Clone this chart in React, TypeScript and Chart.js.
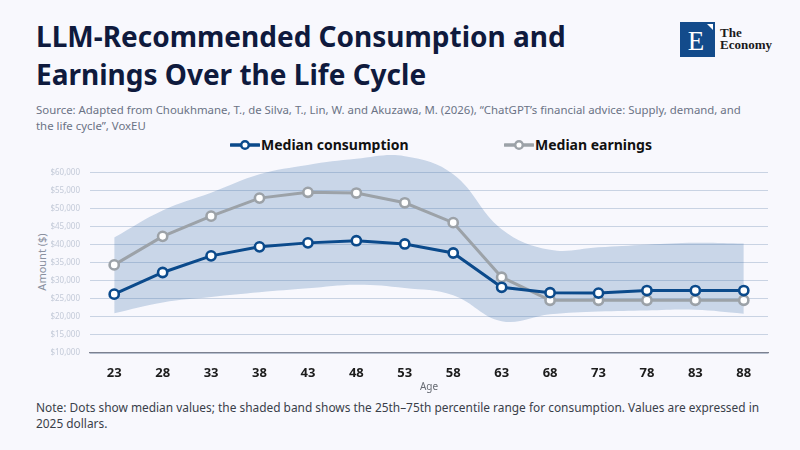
import React, { useEffect, useRef } from "react";
import { Chart, registerables } from "chart.js";

Chart.register(...registerables);

const ages = ["23", "28", "33", "38", "43", "48", "53", "58", "63", "68", "73", "78", "83", "88"];
const medianConsumption = [26300, 32300, 36900, 39400, 40500, 41100, 40200, 37700, 28200, 26700, 26600, 27300, 27300, 27300];
const medianEarnings = [34400, 42300, 47900, 52900, 54500, 54300, 51600, 46100, 31000, 24600, 24600, 24600, 24600, 24600];
const bandUpper = [42000, 49500, 54400, 59500, 62100, 63800, 64500, 59500, 44300, 38600, 39300, 40000, 40500, 40300];
const bandLower = [21000, 24000, 25500, 26800, 27900, 28900, 28000, 26000, 18800, 20700, 21500, 21800, 22000, 20900];
const yTicks = [10000, 15000, 20000, 25000, 30000, 35000, 40000, 45000, 50000, 55000, 60000];

const BLUE = "#0b4a8b";
const GRAY = "#9ca2a8";
const BG = "#f8f8fd";
const FONT = "'Noto Sans', sans-serif";

function LegendMarker({ color }: { color: string }) {
  return (
    <svg width="30" height="12" style={{ display: "block" }}>
      <line x1="1" y1="6" x2="29" y2="6" stroke={color} strokeWidth="3.5" strokeLinecap="round" />
      <circle cx="15" cy="6" r="3.8" fill="#fff" stroke={color} strokeWidth="2.5" />
    </svg>
  );
}

export default function App() {
  const canvasRef = useRef<HTMLCanvasElement | null>(null);

  useEffect(() => {
    const canvas = canvasRef.current;
    if (!canvas) return;
    const chart = new Chart(canvas, {
      type: "line",
      data: {
        labels: ages,
        datasets: [
          {
            label: "Median consumption",
            data: medianConsumption,
            borderColor: BLUE,
            backgroundColor: "#ffffff",
            borderWidth: 3,
            pointRadius: 4.6,
            pointBorderWidth: 2.6,
            pointBackgroundColor: "#ffffff",
            pointBorderColor: BLUE,
            tension: 0,
            fill: false,
          },
          {
            label: "Median earnings",
            data: medianEarnings,
            borderColor: GRAY,
            backgroundColor: "#ffffff",
            borderWidth: 3,
            pointRadius: 4.6,
            pointBorderWidth: 2.6,
            pointBackgroundColor: "#ffffff",
            pointBorderColor: GRAY,
            tension: 0,
            fill: false,
          },
          {
            label: "75th percentile",
            data: bandUpper,
            borderWidth: 0,
            borderColor: "rgba(0,0,0,0)",
            backgroundColor: "rgba(60,110,170,0.25)",
            pointRadius: 0,
            tension: 0.4,
            fill: "+1",
          },
          {
            label: "25th percentile",
            data: bandLower,
            borderWidth: 0,
            borderColor: "rgba(0,0,0,0)",
            backgroundColor: "rgba(0,0,0,0)",
            pointRadius: 0,
            tension: 0.4,
            fill: false,
          },
        ],
      },
      options: {
        animation: false,
        responsive: true,
        maintainAspectRatio: false,
        layout: { padding: { top: 0, right: 22, left: 0, bottom: 0 } },
        plugins: {
          legend: { display: false },
          tooltip: { enabled: false },
        },
        scales: {
          x: {
            offset: true,
            afterFit: (axis: any) => {
              axis.height = 44;
            },
            grid: { display: false, drawTicks: false },
            border: { display: true, color: "#7c8190", width: 1.2 },
            ticks: {
              color: "#1c1c1c",
              font: { family: FONT, size: 13, weight: "bold" },
              padding: 12,
            },
            title: {
              display: true,
              text: "Age",
              color: "#666a72",
              font: { family: FONT, size: 10 },
              padding: { top: 2, bottom: 4 },
            },
          },
          y: {
            min: 10000,
            max: 66000,
            afterBuildTicks: (axis: any) => {
              axis.ticks = yTicks.map((v) => ({ value: v }));
            },
            afterFit: (axis: any) => {
              axis.width = 60;
            },
            grid: { color: "#c9d3e3", lineWidth: 1, drawTicks: false },
            border: { display: false },
            ticks: {
              color: "#c3cad8",
              font: { family: FONT, size: 8 },
              padding: 10,
              callback: (v: any) => "$" + Number(v).toLocaleString("en-US"),
            },
          },
        },
      },
    });
    return () => chart.destroy();
  }, []);

  return (
    <div
      style={{
        position: "fixed",
        left: 0,
        top: 0,
        width: 800,
        height: 450,
        background: BG,
        overflow: "hidden",
        fontFamily: FONT,
      }}
    >
      <div
        style={{
          position: "absolute",
          left: 36,
          top: 17,
          fontSize: 28,
          lineHeight: "38px",
          fontWeight: 700,
          color: "#0f1a3d",
          whiteSpace: "nowrap",
        }}
      >
        LLM-Recommended Consumption and
        <br />
        Earnings Over the Life Cycle
      </div>

      <svg style={{ position: "absolute", left: 680, top: 22 }} width="36" height="36">
        <rect x="0" y="0" width="35" height="35" fill="#134b8b" />
        <text x="16" y="28" textAnchor="middle" fill="#ffffff" fontFamily="'Liberation Serif', serif" fontSize="27">
          E
        </text>
        <polygon points="27,2 33,2 33,8" fill="#ffffff" />
      </svg>
      <div
        style={{
          position: "absolute",
          left: 720,
          top: 27,
          fontFamily: "'Liberation Serif', serif",
          fontSize: 13,
          lineHeight: "12px",
          color: "#1a1a1a",
          fontWeight: 600,
        }}
      >
        The
        <br />
        Economy
      </div>

      <div
        style={{
          position: "absolute",
          left: 36,
          top: 102,
          fontSize: 11.4,
          lineHeight: "16px",
          color: "#6b7385",
          whiteSpace: "nowrap",
        }}
      >
        Source: Adapted from Choukhmane, T., de Silva, T., Lin, W. and Akuzawa, M. (2026), “ChatGPT’s financial advice: Supply, demand, and
        <br />
        the life cycle”, VoxEU
      </div>

      <div style={{ position: "absolute", left: 230, top: 135, display: "flex", alignItems: "center" }}>
        <LegendMarker color={BLUE} />
        <span style={{ fontSize: 14, fontWeight: 700, color: "#111", marginLeft: 1 }}>Median consumption</span>
      </div>
      <div style={{ position: "absolute", left: 504, top: 135, display: "flex", alignItems: "center" }}>
        <LegendMarker color={GRAY} />
        <span style={{ fontSize: 14, fontWeight: 700, color: "#111", marginLeft: 1 }}>Median earnings</span>
      </div>

      <div
        style={{
          position: "absolute",
          left: 41,
          top: 262,
          transform: "translate(-50%, -50%) rotate(-90deg)",
          fontSize: 11,
          color: "#8a90a0",
          whiteSpace: "nowrap",
        }}
      >
        Amount ($)
      </div>

      <div style={{ position: "absolute", left: 30, top: 136, width: 760, height: 261 }}>
        <canvas ref={canvasRef} />
      </div>

      <div
        style={{
          position: "absolute",
          left: 36,
          top: 400,
          fontSize: 11.9,
          lineHeight: "15.5px",
          color: "#3a3f4a",
          whiteSpace: "nowrap",
        }}
      >
        Note: Dots show median values; the shaded band shows the 25th–75th percentile range for consumption. Values are expressed in
        <br />
        2025 dollars.
      </div>
    </div>
  );
}
